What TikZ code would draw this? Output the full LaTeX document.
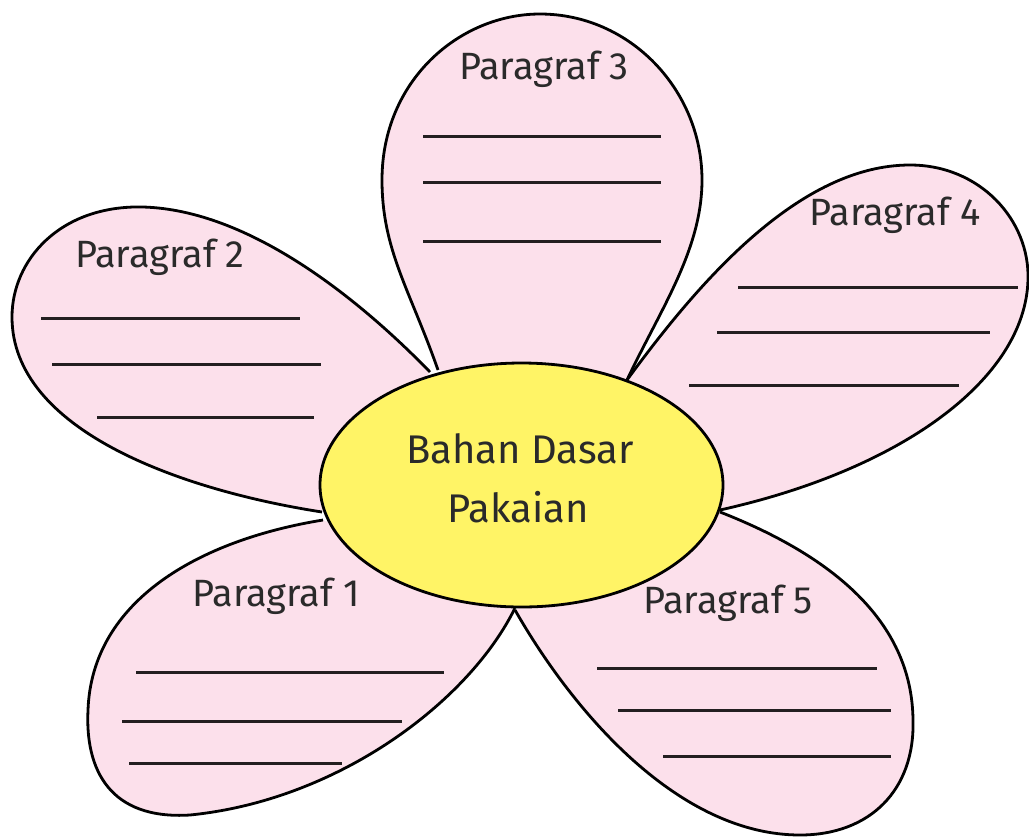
\documentclass[tikz,border=0pt]{standalone}
\usepackage{fontspec}
\usetikzlibrary{shapes.geometric}
\setmainfont{Fira Sans}
\definecolor{petalpink}{HTML}{FCE0EB}
\definecolor{centeryellow}{HTML}{FFF466}
\definecolor{inkdark}{HTML}{231F20}
\definecolor{textdark}{HTML}{2A2A2A}
\tikzset{
  petal/.style={draw=black, fill=petalpink, line width=2.8pt, line join=round},
  writeline/.style={draw=inkdark, line width=3pt},
  petallabel/.style={anchor=base, text=textdark, font=\fontsize{38}{40}\selectfont, inner sep=0pt},
  centerlabel/.style={anchor=base, text=textdark, font=\fontsize{40}{42}\selectfont, inner sep=0pt}
}
\begin{document}
\begin{tikzpicture}[x=1pt,y=-1pt]
\useasboundingbox (0,0) rectangle (1029,839);
% Petal 3 (top)
\path[petal] (438,370) .. controls (410,290) and (382,250) .. (382,180)
  .. controls (382,80) and (460,14) .. (540,14)
  .. controls (630,14) and (702,90) .. (702,180)
  .. controls (702,250) and (660,310) .. (627,380);
% Petal 2 (left)
\path[petal] (430,372) .. controls (360,300) and (250,210) .. (143,207)
  .. controls (60,205) and (12,260) .. (12,317)
  .. controls (12,430) and (180,490) .. (322,512);
% Petal 4 (right)
\path[petal] (627,380) .. controls (700,280) and (800,165) .. (910,165)
  .. controls (980,165) and (1030,220) .. (1028,280)
  .. controls (1025,380) and (900,470) .. (720,510);
% Petal 1 (bottom left)
\path[petal] (515,608) .. controls (470,700) and (340,800) .. (190,815)
  .. controls (110,820) and (85,770) .. (88,710)
  .. controls (92,600) and (200,540) .. (323,520);
% Petal 5 (bottom right)
\path[petal] (515,610) .. controls (575,715) and (680,835) .. (800,835)
  .. controls (870,835) and (915,790) .. (913,720)
  .. controls (912,620) and (830,555) .. (720,512);
% Writing lines
\coordinate (p3a1) at (423,136); \coordinate (p3b1) at (661,136);
\coordinate (p3a2) at (423,182); \coordinate (p3b2) at (661,182);
\coordinate (p3a3) at (423,241); \coordinate (p3b3) at (661,241);
\draw[writeline] (p3a1) -- (p3b1); \draw[writeline] (p3a2) -- (p3b2); \draw[writeline] (p3a3) -- (p3b3);
\coordinate (p2a1) at (41,318); \coordinate (p2b1) at (300,318);
\coordinate (p2a2) at (52,364); \coordinate (p2b2) at (321,364);
\coordinate (p2a3) at (97,417); \coordinate (p2b3) at (314,417);
\draw[writeline] (p2a1) -- (p2b1); \draw[writeline] (p2a2) -- (p2b2); \draw[writeline] (p2a3) -- (p2b3);
\coordinate (p4a1) at (738,287); \coordinate (p4b1) at (1018,287);
\coordinate (p4a2) at (717,332); \coordinate (p4b2) at (990,332);
\coordinate (p4a3) at (689,385); \coordinate (p4b3) at (959,385);
\draw[writeline] (p4a1) -- (p4b1); \draw[writeline] (p4a2) -- (p4b2); \draw[writeline] (p4a3) -- (p4b3);
\coordinate (p1a1) at (136,672); \coordinate (p1b1) at (444,672);
\coordinate (p1a2) at (122,721); \coordinate (p1b2) at (402,721);
\coordinate (p1a3) at (129,763); \coordinate (p1b3) at (342,763);
\draw[writeline] (p1a1) -- (p1b1); \draw[writeline] (p1a2) -- (p1b2); \draw[writeline] (p1a3) -- (p1b3);
\coordinate (p5a1) at (597,668); \coordinate (p5b1) at (877,668);
\coordinate (p5a2) at (618,710); \coordinate (p5b2) at (891,710);
\coordinate (p5a3) at (663,756); \coordinate (p5b3) at (891,756);
\draw[writeline] (p5a1) -- (p5b1); \draw[writeline] (p5a2) -- (p5b2); \draw[writeline] (p5a3) -- (p5b3);
% Labels
\node[petallabel] (l3) at (544,79) {Paragraf 3};
\node[petallabel] (l2) at (160,267) {Paragraf 2};
\node[petallabel] (l4) at (895,225) {Paragraf 4};
\node[petallabel] (l1) at (276,606) {Paragraf 1};
\node[petallabel] (l5) at (728,613) {Paragraf 5};
% Center
\node[draw=black, fill=centeryellow, line width=2.8pt, ellipse, minimum width=403pt, minimum height=244pt, inner sep=0pt] (center) at (521.5,485) {};
\node[centerlabel] (ct1) at (520,463) {Bahan Dasar};
\node[centerlabel] (ct2) at (518,522) {Pakaian};
\end{tikzpicture}
\end{document}
